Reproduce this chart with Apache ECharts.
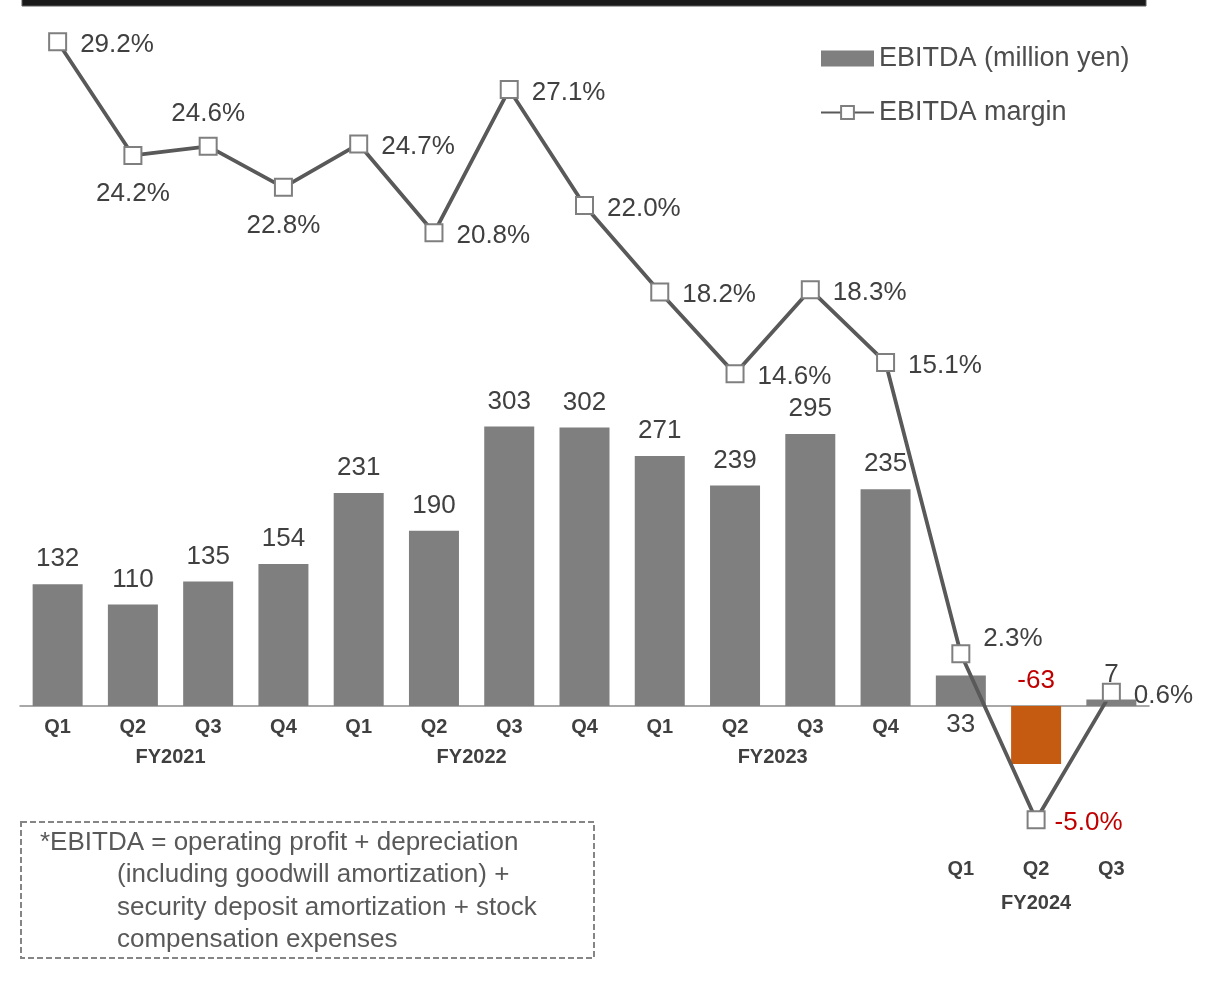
<!DOCTYPE html>
<html>
<head>
<meta charset="utf-8">
<script src="https://cdn.jsdelivr.net/npm/echarts@6/dist/echarts.min.js"></script>
<style>
  html, body { margin: 0; padding: 0; background: #ffffff; }
  #chart { width: 1221px; height: 1004px; }
</style>
</head>
<body>
<div id="chart"></div>
<script>
// Quarterly EBITDA (million yen) and EBITDA margin (%)
const fiscalYears = ['FY2021', 'FY2022', 'FY2023', 'FY2024'];
const quarters = ['Q1', 'Q2', 'Q3', 'Q4', 'Q1', 'Q2', 'Q3', 'Q4', 'Q1', 'Q2', 'Q3', 'Q4', 'Q1', 'Q2', 'Q3'];
const ebitda = [132, 110, 135, 154, 231, 190, 303, 302, 271, 239, 295, 235, 33, -63, 7];
const ebitdaMargin = [29.2, 24.2, 24.6, 22.8, 24.7, 20.8, 27.1, 22.0, 18.2, 14.6, 18.3, 15.1, 2.3, -5.0, 0.6];
const footnoteLines = [
  '*EBITDA = operating profit + depreciation',
  '(including goodwill amortization) +',
  'security deposit amortization + stock',
  'compensation expenses'
];

// Label placement for the margin line
const marginLabelPos = ['right', 'bottom', 'top', 'bottom', 'right', 'right', 'right', 'right',
                        'right', 'right', 'right', 'right', 'right', 'right', 'right'];
// Quarters from this index on are labelled below the negative area
const lowerFrom = 12;

const TEXT = '#404040';
const RED = '#C00000';
const BAR_GREY = '#7f7f7f';
const BAR_NEG = '#C55A11';
const FONT = 'Liberation Sans, Arial, sans-serif';

// Plot geometry: both value axes share the same zero line
const PLOT_TOP = 23.5;
const PLOT_H = 819;
const ZERO_Y = PLOT_TOP + PLOT_H * 30 / 36;

// centre position of every fiscal year group along the category axis
const fyCenters = [];
(function () {
  let start = 0;
  for (let i = 1; i <= quarters.length; i++) {
    if (i === quarters.length || quarters[i] === 'Q1') {
      fyCenters.push((start + i - 1) / 2);
      start = i;
    }
  }
})();
function fyAt(v, lower) {
  for (let k = 0; k < fyCenters.length; k++) {
    const isLower = fyCenters[k] >= lowerFrom;
    if (Math.abs(fyCenters[k] - v) < 1e-6 && isLower === lower) return fiscalYears[k];
  }
  return '';
}

const chart = echarts.init(document.getElementById('chart'), null, { renderer: 'canvas' });

const barData = ebitda.map(function (v, i) {
  const neg = v < 0;
  const item = {
    value: v,
    itemStyle: { color: neg ? BAR_NEG : BAR_GREY },
    label: { position: 'top', color: neg ? RED : TEXT }
  };
  if (i === lowerFrom) { item.label.position = 'bottom'; item.label.distance = 6; }
  return item;
});

const lineData = ebitdaMargin.map(function (v, i) {
  const item = {
    value: v,
    label: { position: marginLabelPos[i], color: v < 0 ? RED : TEXT, offset: [0, 3] }
  };
  if (i === lowerFrom) item.label.offset = [0, -15];
  if (v < 0) item.label.distance = 9;
  return item;
});

const qLabel = { fontFamily: FONT, fontSize: 20, fontWeight: 'bold', color: TEXT };

function fyAxis(gridIndex, margin, lower) {
  return {
    type: 'value',
    gridIndex: gridIndex,
    position: 'bottom',
    min: -0.5,
    max: 14.5,
    interval: 0.5,
    axisTick: { show: false },
    splitLine: { show: false },
    axisLine: { show: false, onZero: false },
    axisLabel: Object.assign({}, qLabel, {
      margin: margin,
      showMinLabel: true, showMaxLabel: true, hideOverlap: false,
      formatter: function (v) { return fyAt(v, lower); }
    })
  };
}

const option = {
  animation: false,
  backgroundColor: '#ffffff',
  textStyle: { fontFamily: FONT },
  grid: [
    // plotting area
    { left: 20, right: 72, top: PLOT_TOP, height: PLOT_H, containLabel: false },
    // label band that ends on the zero line
    { left: 20, right: 72, top: PLOT_TOP, height: ZERO_Y - PLOT_TOP, containLabel: false }
  ],
  legend: {
    orient: 'vertical',
    left: 815,
    top: 38,
    itemWidth: 53,
    itemHeight: 16,
    itemGap: 23,
    textStyle: { fontFamily: FONT, fontSize: 27, color: '#4d4d4d', lineHeight: 31 },
    data: [
      { name: 'EBITDA (million yen)', icon: 'rect' },
      { name: 'EBITDA margin' }
    ]
  },
  xAxis: [
    {
      // series axis; its line sits on zero, labels only for the lower quarters
      type: 'category',
      gridIndex: 0,
      data: quarters,
      boundaryGap: true,
      position: 'bottom',
      axisLine: { show: true, onZero: true, lineStyle: { color: '#8c8c8c', width: 1.5 } },
      axisTick: { show: false },
      axisLabel: Object.assign({}, qLabel, {
        interval: 0, margin: 17,
        formatter: function (v, i) { return i >= lowerFrom ? v : ''; }
      })
    },
    {
      type: 'category',
      gridIndex: 1,
      data: quarters,
      boundaryGap: true,
      position: 'bottom',
      axisLine: { show: false, onZero: false },
      axisTick: { show: false },
      axisLabel: Object.assign({}, qLabel, {
        interval: 0, margin: 11,
        formatter: function (v, i) { return i < lowerFrom ? v : ''; }
      })
    },
    fyAxis(1, 41, false),
    fyAxis(0, 51, true)
  ],
  yAxis: [
    { type: 'value', gridIndex: 0, min: -148, max: 740, show: false, splitLine: { show: false } },
    { type: 'value', gridIndex: 0, min: -6, max: 30, show: false, splitLine: { show: false } },
    { type: 'value', gridIndex: 1, min: 0, max: 1, show: false, splitLine: { show: false } }
  ],
  series: [
    {
      name: 'EBITDA (million yen)',
      type: 'bar',
      xAxisIndex: 0,
      yAxisIndex: 0,
      barWidth: 50,
      itemStyle: { color: BAR_GREY },
      label: {
        show: true, distance: 12,
        fontFamily: FONT, fontSize: 26, color: TEXT
      },
      data: barData,
      z: 2
    },
    {
      name: 'EBITDA margin',
      type: 'line',
      xAxisIndex: 0,
      yAxisIndex: 1,
      symbol: 'rect',
      symbolSize: 17,
      lineStyle: { color: '#595959', width: 3.8 },
      itemStyle: { color: '#ffffff', borderColor: '#7f7f7f', borderWidth: 2 },
      label: {
        show: true, distance: 13,
        fontFamily: FONT, fontSize: 26, color: TEXT,
        formatter: function (p) { return p.value.toFixed(1) + '%'; }
      },
      data: lineData,
      z: 5
    }
  ],
  graphic: [
    {
      type: 'rect',
      shape: { x: 22, y: -2, width: 1124, height: 8 },
      style: { fill: '#1a1a1a', stroke: '#5a5a5a', lineWidth: 1 },
      silent: true
    },
    {
      type: 'rect',
      shape: { x: 21, y: 822, width: 573, height: 136 },
      style: { fill: 'none', stroke: '#858585', lineWidth: 2, lineDash: [6, 3] },
      silent: true
    }
  ].concat(footnoteLines.map(function (t, i) {
    return {
      type: 'text',
      x: i === 0 ? 40 : 117,
      y: 843 + i * 32.3,
      style: {
        text: t, fontFamily: FONT, fontSize: 26, fill: '#595959',
        verticalAlign: 'middle', align: 'left'
      },
      silent: true
    };
  }))
};

chart.setOption(option);
</script>
</body>
</html>
